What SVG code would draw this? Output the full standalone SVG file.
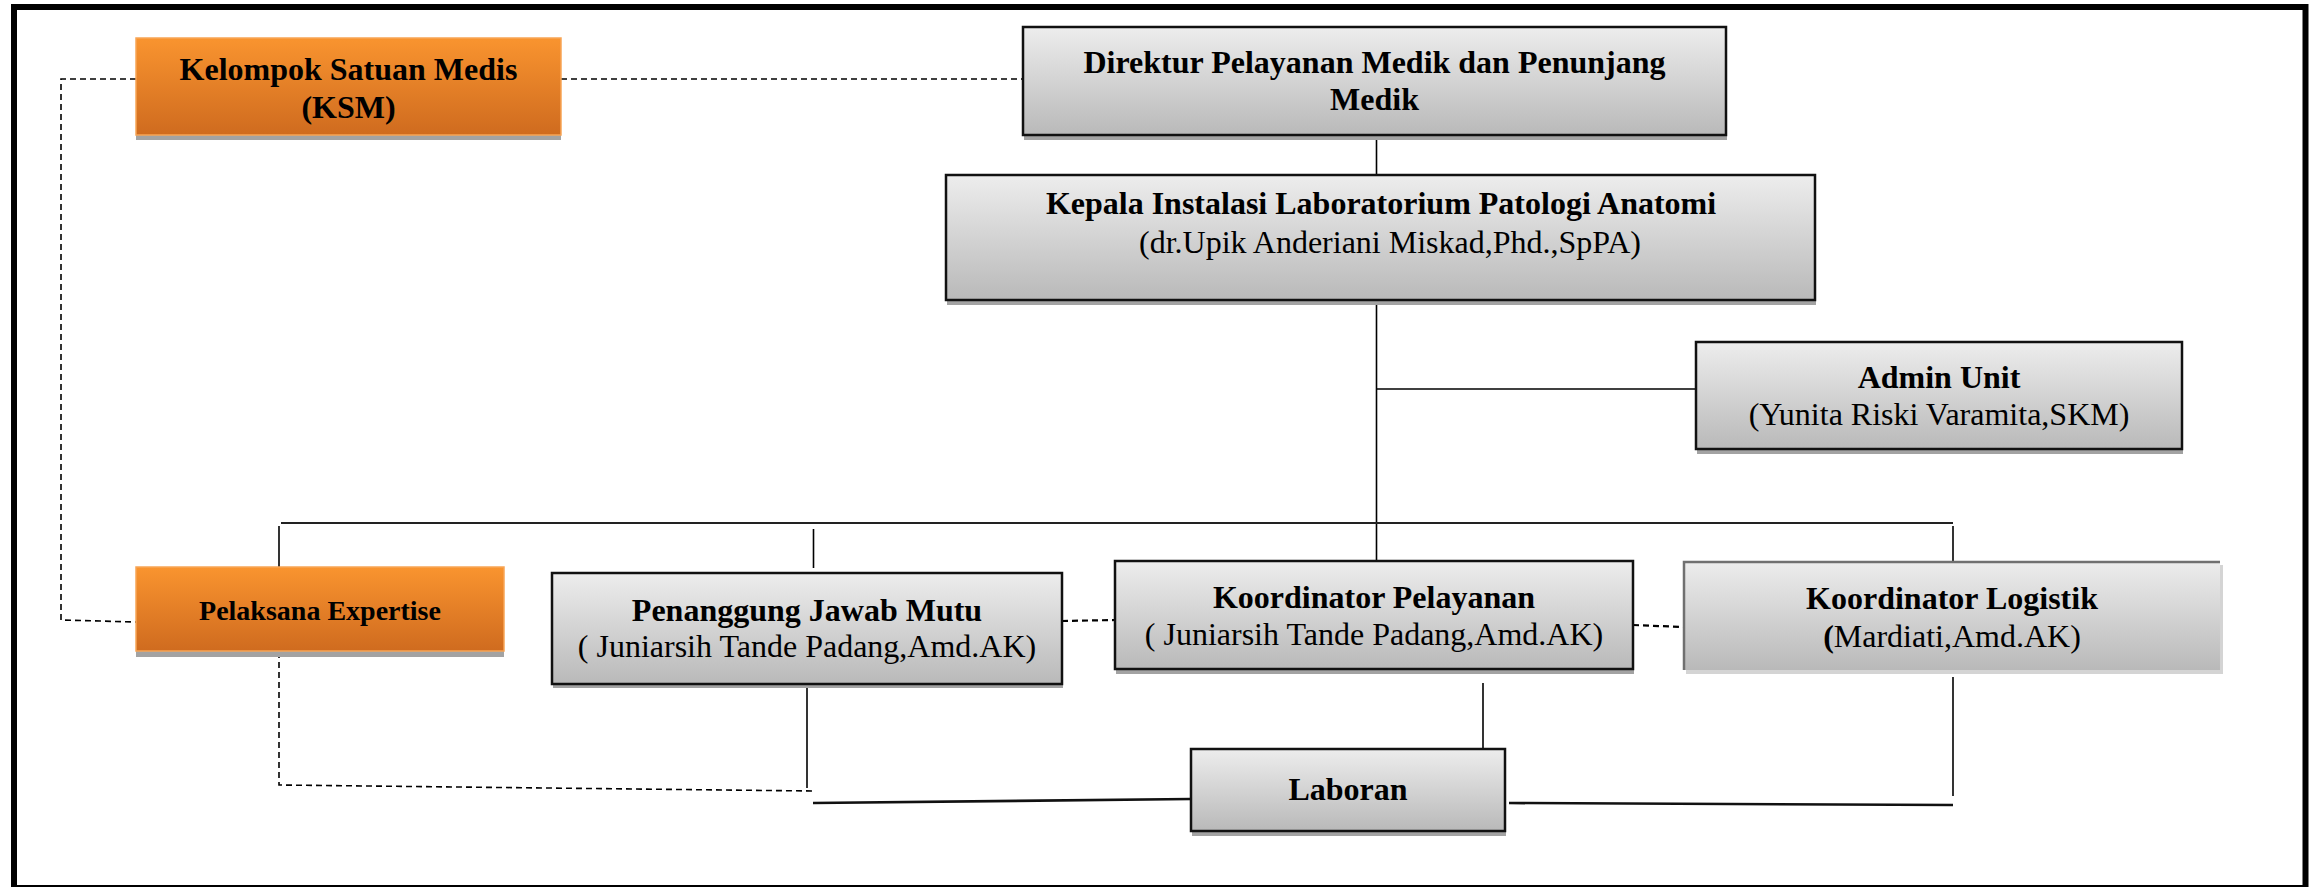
<svg xmlns="http://www.w3.org/2000/svg" width="2317" height="887" viewBox="0 0 2317 887">
<defs>
<linearGradient id="gGrey" x1="0" y1="0" x2="0" y2="1">
<stop offset="0" stop-color="#ededed"/>
<stop offset="1" stop-color="#b9b9b9"/>
</linearGradient>
<linearGradient id="gOrange" x1="0" y1="0" x2="0" y2="1">
<stop offset="0" stop-color="#f9942f"/>
<stop offset="1" stop-color="#cf6b1f"/>
</linearGradient>
</defs>
<style>
text{font-family:"Liberation Serif","Times New Roman",serif;fill:#000;text-anchor:middle;font-size:32px}
.b{font-weight:bold}
.grey{fill:url(#gGrey);stroke:#111;stroke-width:2.5}
.orange{fill:url(#gOrange);stroke:#f8a556;stroke-width:1.5}
.shadow{fill:#a3a3a3}
.ln{fill:none;stroke:#000;stroke-width:1.6}
.thick{fill:none;stroke:#111;stroke-width:2.6}
.dash{fill:none;stroke:#000;stroke-width:1.6;stroke-dasharray:6 4}
</style>
<rect x="0" y="0" width="2317" height="887" fill="#fff"/>
<rect x="14" y="7" width="2291.5" height="881" fill="none" stroke="#000" stroke-width="6"/>
<g id="connectors">
<line class="ln" x1="1376.5" y1="135" x2="1376.5" y2="175"/>
<line class="ln" x1="1376.5" y1="300" x2="1376.5" y2="561"/>
<line class="ln" x1="1376.5" y1="389" x2="1696" y2="389"/>
<line class="ln" x1="281" y1="523" x2="1953" y2="523" style="stroke-width:2.2;stroke:#222"/>
<line class="ln" x1="279" y1="526" x2="279" y2="567"/>
<line class="ln" x1="813.5" y1="529" x2="813.5" y2="568"/>
<line class="ln" x1="1953" y1="526" x2="1953" y2="563"/>
<line class="ln" x1="807" y1="684" x2="807" y2="788"/>
<line class="ln" x1="1483" y1="683" x2="1483" y2="748"/>
<line class="ln" x1="1953" y1="677" x2="1953" y2="796"/>
<line class="thick" x1="813" y1="803" x2="1191" y2="799"/>
<line class="thick" x1="1509" y1="803" x2="1953" y2="805"/>
<polyline class="dash" points="136,79 61,79 61,620 136,622"/>
<line class="dash" x1="561" y1="79" x2="1023" y2="79"/>
<polyline class="dash" points="279,652 279,785 813,791"/>
<line class="dash" x1="1062" y1="621" x2="1115" y2="620" style="stroke-width:2.2"/>
<line class="dash" x1="1633" y1="625" x2="1683" y2="627" style="stroke-width:2.2"/>
</g>
<g id="ksm">
<rect class="shadow" x="136" y="43" width="425" height="97"/>
<rect class="orange" x="136" y="38" width="425" height="97"/>
<text class="b" x="348.5" y="80">Kelompok Satuan Medis</text>
<text class="b" x="348.5" y="118">(KSM)</text>
</g>
<g id="direktur">
<rect class="shadow" x="1024" y="31" width="703" height="109"/>
<rect class="grey" x="1023" y="27" width="703" height="108"/>
<text class="b" x="1374.5" y="73">Direktur Pelayanan Medik dan Penunjang</text>
<text class="b" x="1374.5" y="110">Medik</text>
</g>
<g id="kepala">
<rect class="shadow" x="947" y="179" width="869" height="126"/>
<rect class="grey" x="946" y="175" width="869" height="125"/>
<text class="b" x="1381" y="214">Kepala Instalasi Laboratorium Patologi Anatomi</text>
<text x="1390" y="253">(dr.Upik Anderiani Miskad,Phd.,SpPA)</text>
</g>
<g id="admin">
<rect class="shadow" x="1697" y="346" width="486" height="108"/>
<rect class="grey" x="1696" y="342" width="486" height="107"/>
<text class="b" x="1939" y="388">Admin Unit</text>
<text x="1939" y="425">(Yunita Riski Varamita,SKM)</text>
</g>
<g id="pelaksana">
<rect class="shadow" x="136" y="572" width="368" height="85"/>
<rect class="orange" x="136" y="567" width="368" height="84"/>
<text class="b" x="320" y="620" style="font-size:28px">Pelaksana Expertise</text>
</g>
<g id="penanggung">
<rect class="shadow" x="553" y="577" width="510" height="111"/>
<rect class="grey" x="552" y="573" width="510" height="111"/>
<text class="b" x="807" y="621">Penanggung Jawab Mutu</text>
<text x="807" y="657">( Juniarsih Tande Padang,Amd.AK)</text>
</g>
<g id="pelayanan">
<rect class="shadow" x="1116" y="565" width="518" height="109"/>
<rect class="grey" x="1115" y="561" width="518" height="108"/>
<text class="b" x="1374" y="608">Koordinator Pelayanan</text>
<text x="1374" y="645">( Juniarsih Tande Padang,Amd.AK)</text>
</g>
<g id="logistik">
<rect x="1686" y="565" width="537" height="109" fill="#d4d4d4"/>
<rect x="1683" y="561" width="537" height="109" fill="url(#gGrey)"/>
<polyline points="1684,670 1684,562 2220,562" fill="none" stroke="#707070" stroke-width="2.5"/>
<text class="b" x="1952" y="609">Koordinator Logistik</text>
<text x="1952" y="647"><tspan class="b">(</tspan>Mardiati,Amd.AK)</text>
</g>
<g id="laboran">
<rect class="shadow" x="1192" y="753" width="314" height="83"/>
<rect class="grey" x="1191" y="749" width="314" height="82"/>
<text class="b" x="1348" y="800">Laboran</text>
</g>
</svg>
